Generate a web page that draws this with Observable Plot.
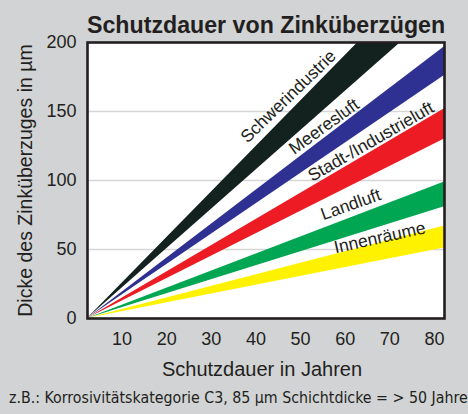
<!DOCTYPE html>
<html>
<head>
<meta charset="utf-8">
<script src="https://cdn.jsdelivr.net/npm/d3@7"></script>
<script src="https://cdn.jsdelivr.net/npm/@observablehq/plot@0.6"></script>
<style>
  html, body { margin: 0; padding: 0; }
  body { width: 468px; height: 414px; overflow: hidden; }
  #wrap { position: relative; width: 468px; height: 414px; background: #d1d3d4; overflow: hidden; color: #231f20; font-family: "Liberation Sans", Arial, sans-serif; }
  #title { position: absolute; left: 87px; top: 14px; font-size: 23.2px; line-height: 23px; font-weight: bold; white-space: nowrap; }
  #chart { position: absolute; left: 0; top: 20px; }
  #caption { position: absolute; left: 9px; top: 390px; font-size: 15.8px; line-height: 16px; white-space: nowrap; font-family: "Liberation Sans Narrow", "DejaVu Sans Condensed", sans-serif; font-stretch: condensed; }
</style>
</head>
<body>
<div id="wrap">
  <div id="title">Schutzdauer von Zinküberzügen</div>
  <div id="chart"></div>
  <div id="caption">z.B.: Korrosivitätskategorie C3, 85 µm Schichtdicke = &gt; 50 Jahre</div>
</div>
<script>
// ---- data ----
const bands = ["Innenräume", "Landluft", "Stadt-/Industrieluft", "Meeresluft", "Schwerindustrie"];
const years = [0, 80];
const lowAt80 = [51, 81, 130, 176, 228];   // µm after 80 years, lower edge
const highAt80 = [67, 99, 152, 197, 264];  // µm after 80 years, upper edge
const xTicks = [10, 20, 30, 40, 50, 60, 70, 80];
const yTicks = [0, 50, 100, 150, 200];
const gridTicks = [50, 100, 150];

// ---- styles / layout ----
const colors = ["#fff200", "#00a651", "#ed1c24", "#2e3192", "#13211f"];
const labelYear = [65.5, 59, 63.5, 53, 45];
const labelAngle = [-12.5, -19.5, -30, -36, -44];

const rows = bands.flatMap((b, i) => years.map(t => ({
  band: b, year: t, lo: lowAt80[i] * t / 80, hi: highAt80[i] * t / 80
})));

const labelRows = bands.map((b, i) => {
  const line = i < bands.length - 1
    ? (highAt80[i] + lowAt80[i + 1]) / 2 - 2.5
    : highAt80[i] + 22;
  return { band: b, year: labelYear[i], value: labelYear[i] * line / 80, angle: labelAngle[i] };
});

const chart = Plot.plot({
  width: 468,
  height: 366,
  marginTop: 22,
  marginRight: 24,
  marginBottom: 68,
  marginLeft: 87,
  x: { domain: [0, 80] },
  y: { domain: [0, 200] },
  color: { domain: bands, range: colors },
  style: { background: "transparent", fontFamily: "'Liberation Sans', Arial, sans-serif", color: "#231f20" },
  marks: [
    Plot.frame({ fill: "white", stroke: null }),
    Plot.gridY(gridTicks, { stroke: "#d6d6d6", strokeOpacity: 1, strokeWidth: 1.5 }),
    Plot.areaY(rows, { x: "year", y1: "lo", y2: "hi", z: "band", fill: "band", clip: true }),
    Plot.text(labelRows, { x: "year", y: "value", text: "band", rotate: "angle", fontSize: 17.5, fill: "#231f20" }),
    Plot.frame({ stroke: "#231f20", strokeWidth: 2.6 }),
    Plot.axisX({ ticks: xTicks, tickSize: 0, tickPadding: 14, textAnchor: "end", fontSize: 18, label: null }),
    Plot.axisY({ ticks: yTicks, tickSize: 0, tickPadding: 11, fontSize: 18, label: null }),
    Plot.text(["Dicke des Zinküberzuges in µm"], { frameAnchor: "left", textAnchor: "middle", lineAnchor: "middle", rotate: -90, dx: -62, fontSize: 19.5, fill: "#231f20" }),
    Plot.text(["Schutzdauer in Jahren"], { frameAnchor: "bottom", textAnchor: "middle", lineAnchor: "middle", dx: -4, dy: 51, fontSize: 20, fill: "#231f20" })
  ]
});
document.getElementById("chart").appendChild(chart);
</script>
</body>
</html>
